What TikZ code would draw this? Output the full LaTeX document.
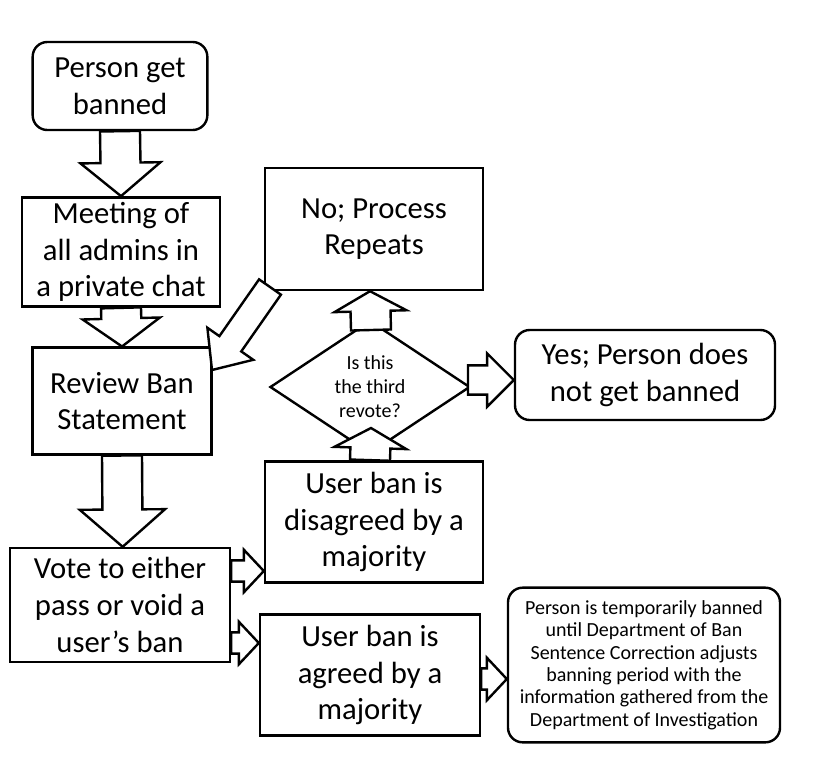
\documentclass[tikz,border=0pt]{standalone}
\usepackage{fontspec}
\setmainfont{Carlito}
\usetikzlibrary{shapes.geometric,calc}
\newcommand\blk[5]{%
  \coordinate (hh) at ($(#2)!#5!(#1)$);
  \draw[barrow] ($(#1)!#3!90:(#2)$) -- ($(hh)!#3!90:(#2)$) -- ($(hh)!#4!90:(#2)$) -- (#2)
   -- ($(hh)!#4!-90:(#2)$) -- ($(hh)!#3!-90:(#2)$) -- ($(#1)!#3!-90:(#2)$) -- cycle;}
\begin{document}
\begin{tikzpicture}[x=0.75pt,y=-0.75pt,
  box/.style={draw,line width=1.8pt,align=center,font=\fontsize{23}{27.5}\selectfont,inner sep=0pt},
  rbox/.style={box,rounded corners=11pt},
  barrow/.style={draw,fill=white,line width=1.8pt,line join=miter}]
\useasboundingbox (0,0) rectangle (820,761);
\fill[white] (0,0) rectangle (820,761);
\node[rbox,minimum width=131pt,minimum height=66pt] (a) at (120,86) {Person get\\banned};
\node[box,minimum width=148.5pt,minimum height=82pt] (b) at (121,252) {Meeting of\\all admins in\\a private chat};
\node[box,minimum width=134pt,minimum height=80pt] (c) at (122,401) {Review Ban\\Statement};
\node[box,minimum width=165pt,minimum height=85.5pt] (d) at (120,605) {Vote to either\\pass or void a\\user’s ban};
\node[box,minimum width=163.5pt,minimum height=91.5pt] (e) at (374,229) {No; Process\\Repeats};
\node[draw,line width=1.8pt,diamond,minimum width=150pt,minimum height=88.5pt,inner sep=0pt,align=center,font=\fontsize{15}{18}\selectfont] (f) at (370,387) {Is this\\the third\\revote?};
\node[rbox,minimum width=195pt,minimum height=67.5pt] (g) at (645,375) {Yes; Person does\\not get banned};
\node[box,minimum width=163.5pt,minimum height=91pt] (h) at (374,522) {User ban is\\disagreed by a\\majority};
\node[box,minimum width=165pt,minimum height=91pt] (i) at (370,675) {User ban is\\agreed by a\\majority};
\node[rbox,minimum width=204pt,minimum height=116pt,font=\fontsize{15}{16.8}\selectfont] (j) at (644,665) {Person is temporarily banned\\until Department of Ban\\Sentence Correction adjusts\\banning period with the\\information gathered from the\\Department of Investigation};
\coordinate (a1) at (a.south); \coordinate (b1) at (b.north);
\blk{a1}{b1}{15pt}{30pt}{25pt}
\coordinate (b2) at (b.south); \coordinate (c1) at (c.north);
\blk{b2}{c1}{15pt}{29pt}{21pt}
\coordinate (c2) at (c.south); \coordinate (d1) at ([xshift=2pt]d.north);
\blk{c2}{d1}{15pt}{32pt}{28pt}
\coordinate (h1) at ([xshift=-3pt]h.north); \coordinate (f1) at (371,428);
\blk{h1}{f1}{15pt}{27pt}{15pt}
\coordinate (f2) at (371,330); \coordinate (e1) at ([xshift=-3pt]e.south);
\blk{f2}{e1}{15pt}{27pt}{15pt}
\coordinate (f3) at (468,380); \coordinate (g1) at (g.west|-f3);
\blk{f3}{g1}{11pt}{20pt}{20pt}
\coordinate (d2) at (d.east|-0,571); \coordinate (h2) at (h.west|-d2);
\blk{d2}{h2}{8pt}{16pt}{15pt}
\coordinate (d3) at (d.east|-0,643); \coordinate (i1) at (i.west|-d3);
\blk{d3}{i1}{8pt}{16pt}{15pt}
\coordinate (i2) at (i.east|-0,679); \coordinate (j1) at (j.west|-i2);
\blk{i2}{j1}{8pt}{16pt}{15pt}
\coordinate (e2) at (270,287); \coordinate (c3) at (212,370);
\blk{e2}{c3}{10pt}{21pt}{24pt}
\end{tikzpicture}
\end{document}
